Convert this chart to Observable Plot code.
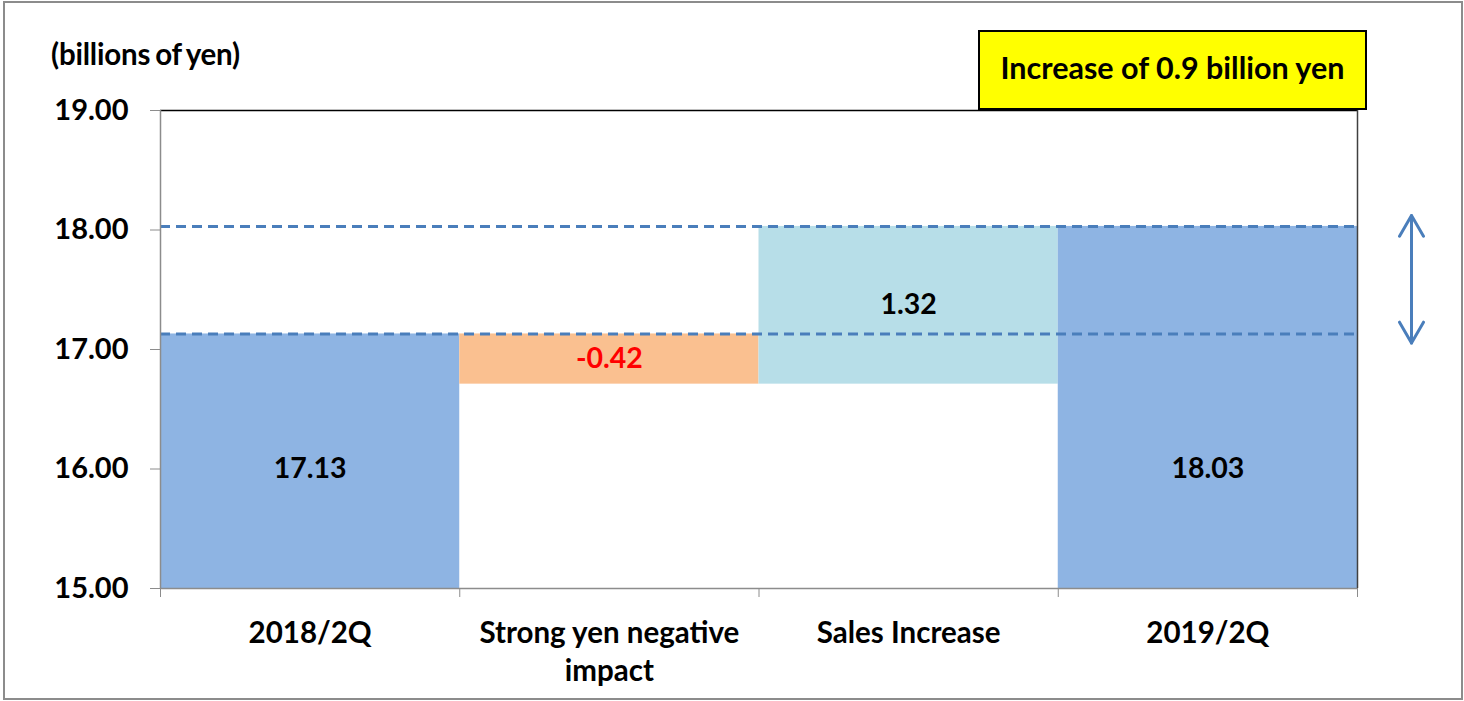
<!DOCTYPE html>
<html>
<head>
<meta charset="utf-8">
<script src="https://cdn.jsdelivr.net/npm/d3@7"></script>
<script src="https://cdn.jsdelivr.net/npm/@observablehq/plot@0.6"></script>
<style>
  html, body { margin: 0; padding: 0; background: #fff; }
  #chart { position: relative; width: 1464px; height: 701px; font-family: Lato, "Open Sans", sans-serif; font-weight: bold; color: #000; }
  #chart svg { position: absolute; left: 0; top: 0; }
  .border { position: absolute; left: 3px; top: 1px; width: 1460px; height: 699px; box-sizing: border-box; border: 2px solid #8c8c8c; pointer-events: none; }
  .unit { position: absolute; left: 51px; top: 36px; font-size: 29.5px; white-space: nowrap; word-spacing: -2px; letter-spacing: -0.2px; }
  .callout { position: absolute; left: 978px; top: 30px; width: 389px; height: 80px; box-sizing: border-box; background: #ffff00; border: 2.5px solid #000;
             display: flex; align-items: center; justify-content: center; font-size: 30.5px; white-space: nowrap; padding-bottom: 6px; }
</style>
</head>
<body>
<div id="chart">
  <div class="border"></div>
  <div class="unit">(billions of yen)</div>
  <div class="callout">Increase of 0.9 billion yen</div>
</div>
<script>
// Operating figures, billions of yen
const categories = ["2018/2Q", "Strong yen negative impact", "Sales Increase", "2019/2Q"];
const categoryLabels = ["2018/2Q", "Strong yen negative\nimpact", "Sales Increase", "2019/2Q"];
const kinds = ["total", "delta", "delta", "total"];
const values = [17.13, -0.42, 1.32, 18.03];
const barColors = ["#8eb4e3", "#fac090", "#b7dee8", "#8eb4e3"];
const labelColors = ["#000000", "#ff0000", "#000000", "#000000"];
const yTicks = [15, 16, 17, 18, 19];
const yDomain = [15, 19];
const totalLabelLevel = 16;

// Build waterfall segments: totals rise from zero, deltas float on the running sum
let running = 0;
const rows = categories.map((name, i) => {
  let lo, hi, mid;
  if (kinds[i] === "total") {
    running = values[i];
    lo = 0; hi = values[i]; mid = totalLabelLevel;
  } else {
    lo = running; hi = running + values[i]; running = hi; mid = (lo + hi) / 2;
  }
  return {name, label: categoryLabels[i], i, lo, hi, mid, value: values[i],
          fill: barColors[i], textColor: labelColors[i]};
});

const startTotal = values[0];
const endTotal = values[values.length - 1];
const guides = [endTotal, startTotal];
const blue = "#4a7ebb";

const chart = Plot.plot({
  width: 1464,
  height: 701,
  marginLeft: 160,
  marginRight: 107,
  marginTop: 110,
  marginBottom: 113,
  style: {fontFamily: "Lato, 'Open Sans', sans-serif", fontSize: "28px", fontWeight: "bold", color: "#000", background: "transparent", overflow: "visible"},
  x: {domain: [0, categories.length], axis: null, label: null},
  y: {domain: yDomain, axis: null, label: null},
  marks: [
    // bars
    Plot.rectY(rows, {x1: "i", x2: d => d.i + 1, y1: "lo", y2: "hi", fill: "fill", clip: true}),
    // start / end reference levels
    Plot.ruleY(guides, {stroke: blue, strokeWidth: 3, strokeDasharray: "10,6"}),
    // plot frame
    Plot.ruleY([yDomain[1]], {stroke: "#000", strokeWidth: 1.5}),
    Plot.ruleX([categories.length], {stroke: "#404040", strokeWidth: 1.5}),
    Plot.ruleX([0], {stroke: "#8c8c8c", strokeWidth: 1.5}),
    Plot.ruleY([yDomain[0]], {stroke: "#8c8c8c", strokeWidth: 1.5}),
    // axes
    Plot.axisY({ticks: yTicks, tickSize: 10, tickPadding: 22, tickFormat: d3.format(".2f"), stroke: "#8c8c8c", fill: "#000", fontSize: 29, label: null}),
    Plot.axisX({ticks: d3.range(categories.length + 1), tickSize: 9, tickFormat: () => "", stroke: "#8c8c8c", label: null}),
    Plot.text(rows, {x: d => d.i + 0.5, text: "label", frameAnchor: "bottom", lineAnchor: "top", dy: 27, lineHeight: 1.3, fill: "#000", fontSize: 29.5}),
    // value labels
    Plot.text(rows, {x: d => d.i + 0.5, y: "mid", text: d => d.value.toFixed(2), fill: "textColor", fontSize: 28.5}),
    // double-headed arrow marking the change between the two totals
    Plot.arrow([{a: startTotal, b: endTotal}], {x: categories.length, y1: "a", y2: "b", dx: 54, stroke: blue, strokeWidth: 3, headLength: 12, headAngle: 60, insetStart: -9, insetEnd: -11}),
    Plot.arrow([{a: endTotal, b: startTotal}], {x: categories.length, y1: "a", y2: "b", dx: 54, stroke: blue, strokeWidth: 3, headLength: 12, headAngle: 60, insetStart: -11, insetEnd: -9})
  ]
});

document.getElementById("chart").prepend(chart);
</script>
</body>
</html>
